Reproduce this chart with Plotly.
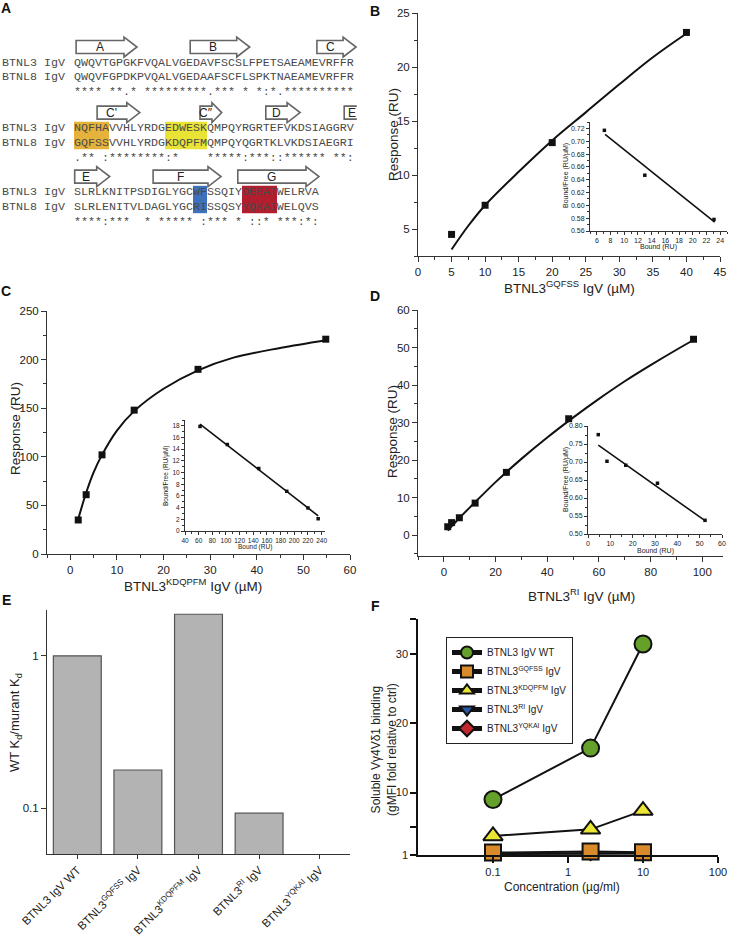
import math
import plotly.graph_objects as go

W, H = 729, 938
FONT = "Liberation Sans, Arial, sans-serif"
MONO = "Liberation Mono, Courier New, monospace"
AXC = "#333333"
TXT = "#222222"

# ---------------- Panel A : alignment data ----------------
seq_names = ["BTNL3 IgV", "BTNL8 IgV"]
btnl3_rows = ["QWQVTGPGKFVQALVGEDAVFSCSLFPETSAEAMEVRFFR",
              "NQFHAVVHLYRDGEDWESKQMPQYRGRTEFVKDSIAGGRV",
              "SLRLKNITPSDIGLYGCWFSSQIYDEEATWELRVA"]
btnl8_rows = ["QWQVFGPDKPVQALVGEDAAFSCFLSPKTNAEAMEVRFFR",
              "GQFSSVVHLYRDGKDQPFMQMPQYQGRTKLVKDSIAEGRI",
              "SLRLENITVLDAGLYGCRISSQSYYQKAIWELQVS"]
consensus_rows = ["**** **.* *********.*** * *:*.**********",
                  ".** :********:*    *****:***::****** **:",
                  "****:***  * ***** :*** * ::* ***:*:"]
strand_labels = ["A", "B", "C", "C'", "C\u2033", "D", "E", "E", "F", "G"]
strand_row = [0, 0, 0, 1, 1, 1, 1, 2, 2, 2]
strand_start = [0.3, 16.6, 34.7, 3.3, 18.0, 27.4, 38.6, 0.1, 11.3, 23.4]
strand_end = [9.0, 25.1, 40.3, 9.4, 21.1, 32.3, 40.4, 5.1, 21.0, 35.0]
strand_kind = ["arrow", "arrow", "arrow", "arrow", "arrow", "arrow", "box", "arrow", "arrow", "arrow"]
hl_row = [1, 1, 2, 2]
hl_start = [0, 13, 17, 24]
hl_end = [5, 19, 19, 29]
hl_group = ["GQFSS", "KDQPFM", "RI", "YQKAI"]

# ---------------- Panel B ----------------
b_conc = [5, 10, 20, 40]
b_resp = [4.5, 7.2, 13.0, 23.2]
b_fit_x = [5, 7.5, 10, 15, 20, 25, 30, 35, 40]
b_fit_y = [3.1, 5.3, 7.2, 10.3, 13.2, 15.8, 18.4, 20.9, 23.1]
b_sc_bound = [7.1, 13.0, 23.1]
b_sc_ratio = [0.717, 0.647, 0.578]
b_sc_fit_x = [7.2, 23.2]
b_sc_fit_y = [0.7106, 0.574]

# ---------------- Panel C ----------------
c_conc = [1.7, 3.4, 6.8, 13.7, 27.4, 54.8]
c_resp = [35, 61, 102, 148, 190, 221]
c_fit_x = [1.7, 3.4, 5, 6.8, 10, 13.7, 20, 27.4, 35, 45, 54.8]
c_fit_y = [36, 63, 84, 102, 127, 147, 170, 189, 202, 212, 220]
c_sc_bound = [62, 102, 148, 189, 220, 235]
c_sc_ratio = [17.9, 14.8, 10.7, 6.8, 3.95, 2.1]
c_sc_fit_x = [62, 235]
c_sc_fit_y = [18.3, 2.6]

# ---------------- Panel D ----------------
d_conc = [1.5, 3.0, 6.0, 12.1, 24.2, 48.3, 96.6]
d_resp = [2.2, 3.3, 4.6, 8.5, 16.7, 31.0, 52.2]
d_fit_x = [1.5, 5, 10, 20, 30, 40, 50, 60, 70, 80, 90, 96.6]
d_fit_y = [1.2, 3.8, 7.3, 14.1, 20.3, 26.0, 31.3, 36.3, 41.0, 45.3, 49.4, 52.0]
d_sc_bound = [4.6, 8.5, 16.9, 31.1, 52.4]
d_sc_ratio = [0.776, 0.702, 0.691, 0.641, 0.538]
d_sc_fit_x = [4.6, 52.4]
d_sc_fit_y = [0.747, 0.537]

# ---------------- Panel E ----------------
e_labels = ["BTNL3 IgV WT", "BTNL3<sup>GQFSS</sup> IgV", "BTNL3<sup>KDQPFM</sup> IgV",
            "BTNL3<sup>RI</sup> IgV", "BTNL3<sup>YQKAI</sup> IgV"]
e_ratio = [1.0, 0.178, 1.875, 0.0927, None]

# ---------------- Panel F ----------------
f_conc = [0.1, 2, 10]
f_names = ["BTNL3 IgV WT", "BTNL3<sup>GQFSS</sup> IgV", "BTNL3<sup>KDQPFM</sup> IgV",
           "BTNL3<sup>RI</sup> IgV", "BTNL3<sup>YQKAI</sup> IgV"]
f_wt = [9.0, 16.4, 31.4]
f_gqfss = [1.35, 1.5, 1.4]
f_kdqpfm = [3.75, 4.7, 7.4]
f_ri = [1.2, 1.3, 1.25]
f_yqkai = [1.15, 1.2, 1.2]

# ---------------- styles ----------------
hl_colors = {"GQFSS": "#E5B23B", "KDQPFM": "#E8E335", "RI": "#3E71BC", "YQKAI": "#B31E2E"}


def px(x):
    return x / W


def py(y):
    return 1 - y / H


def xdom(a, b):
    return [a / W, b / W]


def ydom(a, b):
    return [1 - b / H, 1 - a / H]


def ann(x, y, text, size=12, color=TXT, family=FONT, **kw):
    d = dict(x=px(x), y=py(y), xref="paper", yref="paper", text=text, showarrow=False,
             font=dict(family=family, size=size, color=color), xanchor="center", yanchor="middle")
    d.update(kw)
    return d


def lin_axis(dom, rng, dtick, minor, anchor, size=11.5, ticklen=5, mlen=3, fmt=None):
    d = dict(domain=dom, range=rng, anchor=anchor, showline=True, linecolor=AXC, linewidth=1,
             ticks="outside", ticklen=ticklen, tickwidth=1, tickcolor=AXC, dtick=dtick, tick0=0,
             showgrid=False, zeroline=False, mirror=False, automargin=False,
             tickfont=dict(family=FONT, size=size, color=TXT),
             minor=dict(dtick=minor, ticks="outside", ticklen=mlen, tickwidth=1,
                        tickcolor=AXC, showgrid=False))
    if fmt:
        d["tickformat"] = fmt
    return d


fig = go.Figure()
shapes = []
annotations = []

# ---------------- Panel A drawing ----------------
CH = 7.0
SEQ_X0 = 74
NAME_X = 2
ROW_Y = [62.7, 128.3, 192.3]
GAP = 14.4
CONS_GAP = 29.5
MONO_SIZE = 11.67
SEQ_COL = "#4a4a4a"

for r in range(len(hl_row)):
    row = hl_row[r]
    x0 = SEQ_X0 + hl_start[r] * CH
    x1 = SEQ_X0 + hl_end[r] * CH
    y0 = ROW_Y[row] - 6.5
    y1 = ROW_Y[row] + GAP + 6.5
    shapes.append(dict(type="rect", xref="paper", yref="paper", x0=px(x0), x1=px(x1),
                       y0=py(y1), y1=py(y0), fillcolor=hl_colors[hl_group[r]],
                       line=dict(width=0), layer="below"))


def nb(s):
    return s.replace(" ", "\u00a0")


for i in range(3):
    yb = ROW_Y[i]
    for j, (nm, seq) in enumerate(zip(seq_names, [btnl3_rows[i], btnl8_rows[i]])):
        annotations.append(ann(NAME_X, yb + j * GAP, nb(nm), size=MONO_SIZE, color=SEQ_COL,
                               family=MONO, xanchor="left", borderpad=0, borderwidth=0))
        annotations.append(ann(SEQ_X0, yb + j * GAP, nb(seq), size=MONO_SIZE, color=SEQ_COL,
                               family=MONO, xanchor="left", borderpad=0, borderwidth=0))
    annotations.append(ann(SEQ_X0, yb + CONS_GAP, nb(consensus_rows[i]), size=MONO_SIZE,
                           color=SEQ_COL, family=MONO, xanchor="left", borderpad=0, borderwidth=0))

BODY_H = 6.5
HEAD_H = 10.0
for k in range(len(strand_labels)):
    yc = ROW_Y[strand_row[k]] - 15.7
    x0 = SEQ_X0 + strand_start[k] * CH
    x1 = SEQ_X0 + strand_end[k] * CH
    if strand_kind[k] == "arrow":
        hl = min(13.0, 0.45 * (x1 - x0))
        xh = x1 - hl
        pts = [(x0, yc - BODY_H), (xh, yc - BODY_H), (xh, yc - HEAD_H), (x1, yc),
               (xh, yc + HEAD_H), (xh, yc + BODY_H), (x0, yc + BODY_H)]
        path = "M " + " L ".join(f"{px(a):.5f},{py(b):.5f}" for a, b in pts) + " Z"
        shapes.append(dict(type="path", xref="paper", yref="paper", path=path,
                           fillcolor="white", line=dict(color="#666666", width=1.6)))
        lx = (x0 + xh) / 2
    else:
        pts = [(x1, yc - BODY_H), (x0, yc - BODY_H), (x0, yc + BODY_H), (x1, yc + BODY_H)]
        path = "M " + " L ".join(f"{px(a):.5f},{py(b):.5f}" for a, b in pts)
        shapes.append(dict(type="path", xref="paper", yref="paper", path=path,
                           fillcolor="rgba(0,0,0,0)", line=dict(color="#666666", width=1.6)))
        lx = (x0 + x1) / 2 + 1
    annotations.append(ann(lx, yc, strand_labels[k], size=12))

# ---------------- Panel labels ----------------
for lab, x, y in [("A", 6, 8), ("B", 375, 11), ("C", 6, 291), ("D", 375, 296),
                  ("E", 6, 600), ("F", 376, 606)]:
    annotations.append(ann(x, y, f"<b>{lab}</b>", size=14, color="#111"))

# ---------------- Binding curves (B, C, D) ----------------
LINE = dict(color="#111111", width=2)
SC_LINE = dict(color="#111111", width=1.6)
MK = dict(symbol="square", size=7, color="#111111")
SMK = dict(symbol="square", size=3.5, color="#111111")


def add_curve(ax, xs, ys, fx, fy):
    fig.add_trace(go.Scatter(x=fx, y=fy, mode="lines", line=dict(shape="spline", **LINE),
                             xaxis="x" + ax, yaxis="y" + ax, showlegend=False, hoverinfo="skip"))
    fig.add_trace(go.Scatter(x=xs, y=ys, mode="markers", marker=MK, xaxis="x" + ax,
                             yaxis="y" + ax, showlegend=False))


def add_scatchard(ax, xs, ys, fx, fy):
    fig.add_trace(go.Scatter(x=fx, y=fy, mode="lines", line=SC_LINE, xaxis="x" + ax,
                             yaxis="y" + ax, showlegend=False, hoverinfo="skip"))
    fig.add_trace(go.Scatter(x=xs, y=ys, mode="markers", marker=SMK, xaxis="x" + ax,
                             yaxis="y" + ax, showlegend=False))


add_curve("", b_conc, b_resp, b_fit_x, b_fit_y)
add_scatchard("2", b_sc_bound, b_sc_ratio, b_sc_fit_x, b_sc_fit_y)
add_curve("3", c_conc, c_resp, c_fit_x, c_fit_y)
add_scatchard("4", c_sc_bound, c_sc_ratio, c_sc_fit_x, c_sc_fit_y)
add_curve("5", d_conc, d_resp, d_fit_x, d_fit_y)
add_scatchard("6", d_sc_bound, d_sc_ratio, d_sc_fit_x, d_sc_fit_y)

# ---------------- Panel E bars ----------------
fig.add_trace(go.Bar(x=list(range(len(e_labels))), y=e_ratio, width=0.79,
                     marker=dict(color="#b3b3b3", line=dict(color="#555555", width=1.2)),
                     xaxis="x7", yaxis="y7", showlegend=False))

# ---------------- Panel F ----------------
f_series = [
    (f_ri, 4, dict(symbol="triangle-down", size=10, color="#2B59A8")),
    (f_yqkai, 5, dict(symbol="diamond", size=10, color="#C1272D")),
    (f_gqfss, 2, dict(symbol="square", size=16, color="#D98B2B")),
    (f_kdqpfm, 3, dict(symbol="triangle-up", size=17, color="#EBE633")),
    (f_wt, 1, dict(symbol="circle", size=17, color="#64A02A")),
]
for vals, rank, mk in f_series:
    mk = dict(mk)
    mk["line"] = dict(color="#111111", width=2)
    fig.add_trace(go.Scatter(x=f_conc, y=vals, mode="lines+markers", name=f_names[rank - 1],
                             legendrank=rank, line=dict(color="#111111", width=2), marker=mk,
                             xaxis="x8", yaxis="y8", cliponaxis=False, showlegend=True))

# ---------------- axes ----------------
layout = dict(
    width=W, height=H, margin=dict(l=0, r=0, t=0, b=0, pad=0, autoexpand=False),
    paper_bgcolor="white", plot_bgcolor="rgba(0,0,0,0)",
    font=dict(family=FONT, color=TXT),
    xaxis=lin_axis(xdom(418, 720), [0, 45], 5, 2.5, "y"),
    yaxis=lin_axis(ydom(13, 256), [2.5, 25], 5, 2.5, "x"),
    xaxis2=lin_axis(xdom(590, 727), [5, 25], 2, 1, "y2", size=7, ticklen=3, mlen=2),
    yaxis2=lin_axis(ydom(122, 231), [0.56, 0.73], 0.02, 0.01, "x2", size=7, ticklen=3, mlen=2,
                    fmt=".2f"),
    xaxis3=lin_axis(xdom(47, 350), [-5, 60], 10, 5, "y3"),
    yaxis3=lin_axis(ydom(311, 554), [0, 250], 50, 25, "x3"),
    xaxis4=lin_axis(xdom(185, 325), [40, 245], 20, 10, "y4", size=6.5, ticklen=3, mlen=2),
    yaxis4=lin_axis(ydom(420, 531), [0, 19], 2, 1, "x4", size=6.5, ticklen=3, mlen=2),
    xaxis5=lin_axis(xdom(418, 723), [-10, 108], 20, 10, "y5"),
    yaxis5=lin_axis(ydom(310, 556), [-5.6, 60], 10, 5, "x5"),
    xaxis6=lin_axis(xdom(588, 722), [0, 60], 10, 5, "y6", size=7, ticklen=3, mlen=2),
    yaxis6=lin_axis(ydom(426, 534), [0.5, 0.8], 0.05, 0.025, "x6", size=7, ticklen=3, mlen=2,
                    fmt=".2f"),
    xaxis7=dict(domain=xdom(47, 350), range=[-0.5, 4.5], anchor="y7", showline=True,
                linecolor=AXC, linewidth=1, ticks="outside", ticklen=4, tickcolor=AXC,
                tickvals=list(range(len(e_labels))), ticktext=e_labels, tickangle=-45,
                showgrid=False, zeroline=False, automargin=False,
                tickfont=dict(family=FONT, size=11.5, color=TXT)),
    yaxis7=dict(domain=ydom(610, 854), type="log", range=[math.log10(0.05), math.log10(2)],
                anchor="x7", showline=True, linecolor=AXC, linewidth=1, ticks="outside",
                ticklen=5, tickcolor=AXC, tickvals=[0.1, 1], ticktext=["0.1", "1"],
                showgrid=False, zeroline=False, automargin=False,
                tickfont=dict(family=FONT, size=11.5, color=TXT)),
    xaxis8=dict(domain=xdom(418, 718), type="log", range=[-2, 2], anchor="y8", showline=True,
                linecolor="#111", linewidth=1.5, ticks="outside", ticklen=6, tickwidth=1.5,
                tickcolor="#111", tickvals=[0.1, 1, 10, 100], ticktext=["0.1", "1", "10", "100"],
                showgrid=False, zeroline=False, automargin=False,
                tickfont=dict(family=FONT, size=11, color=TXT)),
    yaxis8=dict(domain=ydom(619, 855), range=[1, 35], anchor="x8", showline=True,
                linecolor="#111", linewidth=1.5, ticks="outside", ticklen=6, tickwidth=1.5,
                tickcolor="#111", tickvals=[1, 5, 10, 20, 30, 35],
                ticktext=["1", "", "10", "20", "30", ""], showgrid=False, zeroline=False,
                automargin=False, tickfont=dict(family=FONT, size=11, color=TXT)),
    legend=dict(x=px(446), y=py(637), xanchor="left", yanchor="top", bgcolor="white",
                bordercolor="#222", borderwidth=1, tracegroupgap=0, itemsizing="constant",
                itemwidth=30, font=dict(family=FONT, size=10, color=TXT)),
    bargap=0.2,
)

# ---------------- axis titles ----------------
annotations += [
    ann(393, 135, "Response (RU)", size=13.5, textangle=-90),
    ann(569, 287, "BTNL3<sup>GQFSS</sup> IgV (\u00b5M)", size=13.5),
    ann(566, 176, "Bound/Free (RU/\u00b5M)", size=7, textangle=-90),
    ann(658, 247.5, "Bound (RU)", size=7),
    ann(15, 429, "Response (RU)", size=13.5, textangle=-90),
    ann(193, 585, "BTNL3<sup>KDQPFM</sup> IgV (\u00b5M)", size=13.5),
    ann(166, 476, "Bound/Free (RU/\u00b5M)", size=6.5, textangle=-90),
    ann(255, 547, "Bound (RU)", size=6.5),
    ann(392, 432, "Response (RU)", size=13.5, textangle=-90),
    ann(581, 595, "BTNL3<sup>RI</sup> IgV (\u00b5M)", size=13.5),
    ann(566, 480, "Bound/Free (RU/\u00b5M)", size=7, textangle=-90),
    ann(655, 550.5, "Bound (RU)", size=7),
    ann(15, 723, "WT K<sub>d</sub>/murant K<sub>d</sub>", size=13, textangle=-90),
    ann(384, 750, "Soluble V\u03b34V\u03b41 binding<br>(gMFI fold relative to ctrl)", size=12,
        textangle=-90),
    ann(562, 887, "Concentration (\u00b5g/ml)", size=12),
]

layout["shapes"] = shapes
layout["annotations"] = annotations
fig.update_layout(**layout)
fig.write_html("out.html", config={"displayModeBar": False},
               post_script="document.body.style.margin='0px';document.body.style.padding='0px';")
